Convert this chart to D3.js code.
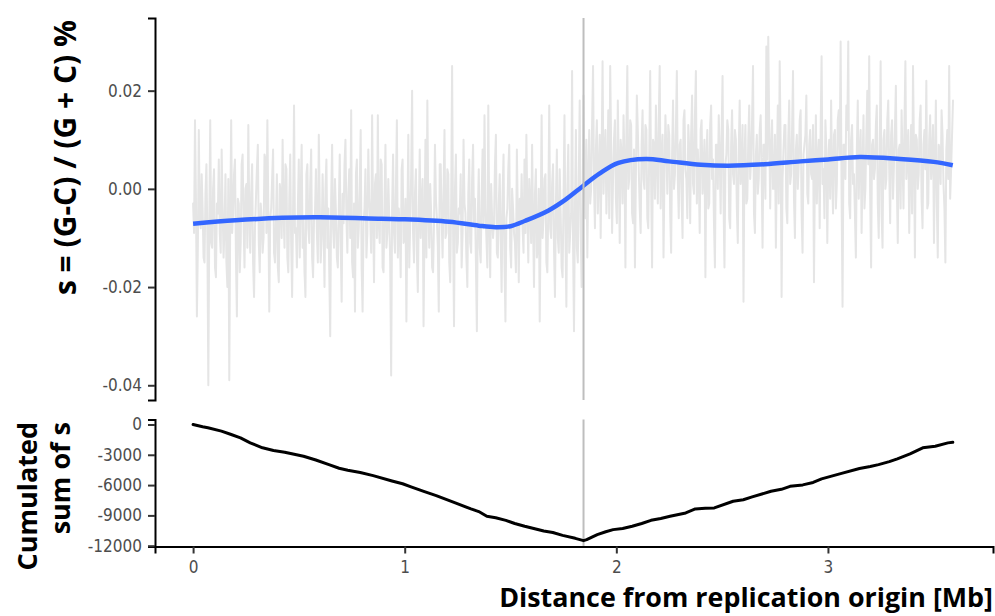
<!DOCTYPE html>
<html><head><meta charset="utf-8">
<script src="https://cdn.jsdelivr.net/npm/d3@7"></script>
<style>html,body{margin:0;padding:0;background:#fff}svg{display:block}</style>
</head><body><svg id="c" width="995" height="616"></svg>
<script>
// ---------- data ----------
const windowMb = 0.0045;         // spacing of the skew windows along the genome (Mb)
const originMb = 1.845;          // position of the vertical reference line (Mb)

// GC skew per window
const skew = [
-.003,-.009,.014,-.002,-.026,-.012,.012,-.006,-.008,.003,-.004,-.014,-.015,-.001,.005,-.010,-.040,-.007,.014,-.011,
-.012,0,.004,-.016,-.018,-.003,-.005,.006,-.009,-.013,.008,-.004,-.014,-.008,.003,-.015,-.020,.002,-.039,-.006,
.014,-.009,-.005,.003,.006,-.014,-.026,-.002,-.003,-.017,-.011,.005,.007,-.007,-.016,0,.001,-.012,.013,-.005,
-.013,-.001,.005,-.015,-.022,-.008,-.002,.004,.009,-.011,-.017,-.003,-.006,-.013,-.010,.007,.006,-.009,.014,-.004,
-.025,-.006,-.004,.002,.008,-.013,-.015,-.007,.003,-.016,-.019,.001,-.001,-.010,.010,-.005,-.012,.005,.004,-.014,
-.017,-.002,.007,-.011,-.022,-.004,.017,-.009,-.008,-.016,-.004,.006,-.014,-.001,.009,-.012,-.006,-.017,-.022,.003,
.005,-.008,-.011,.001,.008,-.014,-.018,-.006,-.005,.004,-.009,-.015,.011,-.003,-.015,-.010,.003,-.007,-.020,0,
.006,-.012,-.004,-.017,-.030,-.002,.009,-.008,-.012,.002,-.005,-.014,-.016,-.004,.007,-.011,-.023,-.001,-.007,.005,
.010,-.006,-.013,-.001,.004,-.010,.016,-.015,-.018,-.003,-.025,.003,.006,-.012,-.008,0,.012,-.016,-.025,-.007,
-.004,.004,-.014,-.009,.008,-.002,-.006,-.013,.015,-.005,-.019,.001,.003,-.010,.015,-.007,-.011,.006,.005,-.016,
-.017,-.003,.009,-.012,-.009,.002,-.006,-.015,-.038,-.004,.007,-.009,-.013,0,.014,-.014,-.004,-.008,-.018,.004,
.006,-.011,-.010,-.002,-.027,-.006,.011,-.016,-.007,.003,.020,-.009,-.015,-.001,.004,-.013,-.021,-.005,.008,-.010,
-.003,.002,-.028,-.008,.010,-.014,.018,-.004,-.012,.001,-.005,-.016,-.017,-.007,.009,-.002,-.006,-.012,-.025,.005,
.005,-.006,-.014,-.001,.012,-.010,-.009,.004,.003,-.015,-.019,-.003,.025,-.008,-.028,0,.007,-.013,-.011,-.004,
-.005,.003,-.016,-.009,.010,-.003,-.005,-.014,-.020,-.001,.006,-.011,-.013,.002,.009,-.007,-.002,-.015,-.029,-.005,
.004,-.012,-.015,-.002,.008,-.008,.015,-.004,-.010,-.016,.017,-.006,-.018,.001,-.006,-.010,-.007,.005,.011,-.013,
-.014,-.003,.003,-.010,-.021,-.001,.007,-.015,-.027,-.006,-.004,.004,.009,-.012,-.016,0,-.004,-.009,-.011,-.017,
.008,-.005,-.019,-.002,-.007,.003,-.008,-.013,.006,-.009,.011,-.004,-.015,.002,-.003,-.011,.009,-.007,-.020,-.001,
.004,-.014,-.012,0,-.027,-.006,.015,-.010,-.006,.002,.003,-.015,-.017,-.004,.017,-.008,-.010,.001,.005,-.012,
-.022,-.003,.008,-.010,-.013,.004,-.005,-.016,-.018,-.002,.015,-.009,-.024,0,.009,-.013,-.009,-.005,.024,-.011,
-.029,-.004,.012,-.012,-.015,.002,.018,-.008,-.020,-.006,
.019,.004,-.006,.010,-.014,.002,.012,-.003,0,.013,.025,.001,-.008,.008,.014,-.005,.003,.011,-.010,.006,
.026,-.001,.006,.012,-.005,.003,.016,-.006,.025,.009,-.009,.002,.010,.014,-.002,-.007,.018,.005,-.011,.010,
.007,-.003,.015,.006,-.016,.011,.025,0,.002,.014,.013,-.005,-.007,.008,-.016,.003,.019,.012,.004,-.004,
-.009,.009,.016,.002,0,.013,.012,-.006,-.008,.007,.024,.001,-.016,.010,.009,-.002,.017,.006,-.003,.014,
.025,-.004,.006,.011,-.014,.003,.015,.008,-.001,.013,.011,-.005,-.013,.007,.018,0,.003,.012,.024,.002,
-.006,.009,.010,-.002,-.010,.014,.016,.004,.002,-.006,.013,.008,-.007,.011,.019,.001,-.001,.015,.024,-.003,
.008,.003,-.009,.012,.014,-.001,.004,.010,-.018,.006,.012,-.004,-.003,.013,.017,.002,.006,-.007,-.016,.009,
.009,0,.015,.007,-.005,.011,.023,-.002,-.016,.005,.007,.014,.012,-.006,-.008,.009,.016,.003,.001,.012,
.010,-.004,-.011,.008,.018,.001,.004,.013,-.023,.006,.013,-.003,-.002,.010,.017,.002,.006,.014,.025,-.005,
-.009,.007,.011,-.001,.002,.012,.015,.004,-.012,.009,.009,-.002,.029,.006,.031,.013,-.004,.008,.014,0,
0,.011,-.012,.005,.017,-.003,.026,.009,-.022,.002,.008,.013,.013,-.004,-.007,.010,.018,.001,.003,.012,
.024,-.002,-.010,.008,.011,0,.005,.014,.016,-.005,-.013,.007,.009,.011,.019,-.001,-.003,.009,.012,.003,
.002,.013,-.019,.004,.015,-.003,.006,.010,-.008,.012,.027,.001,.004,-.006,.014,.008,-.011,.005,.010,-.002,
.018,.003,-.005,.011,.012,-.004,.001,.014,.016,.006,.030,-.001,-.024,.009,.009,.002,.017,.012,.030,-.003,
-.006,.010,.013,.001,.003,-.005,-.014,.008,.018,-.002,.007,.012,-.009,.004,.015,-.004,0,.011,.020,.005,
.027,-.001,-.016,.009,.010,.002,.004,.013,.017,-.003,-.010,.007,.026,-.005,-.012,.010,.012,0,.002,.014,
.018,.004,-.007,.011,.014,-.002,.005,.012,.021,.001,-.011,.008,.009,-.004,.016,.006,-.004,.013,.026,.002,
.007,.012,-.009,.003,.013,-.005,.025,.008,-.014,.011,.010,0,.003,.014,.017,-.002,-.008,.009,.012,.004,
.022,-.004,-.003,.010,.015,.002,.006,.013,-.011,.005,.018,-.003,-.014,.009,.008,.001,.016,.011,.001,-.004,
-.015,.008,.012,.002,.025,-.002,.004,.011,.018
];

// smoothed trend of the skew
const smoothX = [0,0.2,0.42,0.6,0.89,1.0,1.21,1.35,1.43,1.5,1.57,1.68,1.76,1.84,1.92,2.01,2.14,2.25,2.4,2.53,2.7,2.87,3.0,3.15,3.34,3.5,3.59];
const smoothY = [-0.0071,-0.0064,-0.0059,-0.0058,-0.0061,-0.0062,-0.0067,-0.0075,-0.0078,-0.0076,-0.0065,-0.0044,-0.0022,0.0005,0.0031,0.0053,0.0061,0.0056,0.0049,0.0047,0.0050,0.0056,0.0060,0.0065,0.0061,0.0055,0.0048];

// cumulated skew
const cumX = [0,0.045,0.07,0.134,0.18,0.224,0.27,0.328,0.38,0.433,0.522,0.58,0.642,0.69,0.731,0.79,0.851,0.940,0.99,1.030,1.09,1.149,1.239,1.313,1.35,1.388,1.43,1.478,1.52,1.567,1.657,1.70,1.746,1.806,1.845,1.860,1.910,1.95,1.985,2.03,2.075,2.12,2.164,2.21,2.254,2.328,2.373,2.42,2.463,2.552,2.60,2.642,2.731,2.78,2.821,2.881,2.93,2.970,3.060,3.149,3.20,3.239,3.29,3.328,3.388,3.448,3.507,3.567,3.59];
const cumY = [0,-230,-330,-660,-990,-1320,-1820,-2310,-2580,-2740,-3140,-3520,-3970,-4330,-4530,-4760,-5060,-5590,-5870,-6180,-6620,-7040,-7770,-8360,-8620,-9090,-9230,-9490,-9800,-10080,-10550,-10700,-10980,-11270,-11500,-11400,-10910,-10620,-10410,-10300,-10080,-9800,-9490,-9300,-9090,-8760,-8360,-8300,-8260,-7600,-7450,-7170,-6610,-6420,-6120,-5980,-5740,-5390,-4860,-4360,-4160,-3970,-3680,-3400,-2910,-2310,-2150,-1820,-1760];

// ticks
const xTickValues = [0,1,2,3];
const xTickLabels = ["0","1","2","3"];
const skewTickValues = [-0.04,-0.02,0,0.02];
const skewTickLabels = ["-0.04","-0.02","0.00","0.02"];
const cumTickValues = [-12000,-9000,-6000,-3000,0];
const cumTickLabels = ["-12000","-9000","-6000","-3000","0"];

const xTitle = "Distance from replication origin [Mb]";
const skewTitle = "s = (G-C) / (G + C) %";
const cumTitle = ["Cumulated","sum of s"];

// ---------- drawing ----------
const svg = d3.select("#c");
const x  = d3.scaleLinear().domain([-0.18, 3.78]).range([155, 993]);
const yS = d3.scaleLinear().domain([-0.043, 0.0348]).range([400, 18]);
const yC = d3.scaleLinear().domain([-12080, 494]).range([546.5, 419.5]);

const tickFont = "'DejaVu Sans Condensed','DejaVu Sans',sans-serif";
const titleFont = "'Open Sans','DejaVu Sans',sans-serif";

// top panel: skew
svg.append("path").datum(skew)
  .attr("d", d3.line().x((d,i)=>x(i*windowMb)).y(d=>yS(d)))
  .attr("fill","none").attr("stroke","#e5e5e5").attr("stroke-width",2)
  .attr("stroke-linejoin","round").attr("stroke-linecap","round");

svg.append("path").datum(d3.zip(smoothX, smoothY))
  .attr("d", d3.line().x(d=>x(d[0])).y(d=>yS(d[1])).curve(d3.curveCatmullRom.alpha(0.5)))
  .attr("fill","none").attr("stroke","#3366FF").attr("stroke-width",4.5)
  .attr("stroke-linecap","butt");

svg.append("line")
  .attr("x1",x(originMb)).attr("x2",x(originMb))
  .attr("y1",yS.range()[1]).attr("y2",yS.range()[0])
  .attr("stroke","#bebebe").attr("stroke-width",2);

// bottom panel: cumulated
svg.append("line")
  .attr("x1",x(originMb)).attr("x2",x(originMb))
  .attr("y1",yC.range()[1]).attr("y2",yC.range()[0])
  .attr("stroke","#bebebe").attr("stroke-width",2);

svg.append("path").datum(d3.zip(cumX, cumY))
  .attr("d", d3.line().x(d=>x(d[0])).y(d=>yC(d[1])))
  .attr("fill","none").attr("stroke","#000").attr("stroke-width",3)
  .attr("stroke-linejoin","round").attr("stroke-linecap","round");

function styleAxis(g){
  g.select(".domain").attr("stroke","#000").attr("stroke-width",2);
  g.selectAll(".tick line").attr("stroke","#333").attr("stroke-width",2);
  g.selectAll(".tick text").attr("fill","#4d4d4d")
    .style("font-family",tickFont).style("font-size","17px");
}

const axS = svg.append("g").attr("transform","translate(155,0)")
  .call(d3.axisLeft(yS).tickValues(skewTickValues).tickFormat((d,i)=>skewTickLabels[i])
        .tickSizeOuter(0).tickSize(7).tickPadding(6));
styleAxis(axS);

const axC = svg.append("g").attr("transform","translate(155,0)")
  .call(d3.axisLeft(yC).tickValues(cumTickValues).tickFormat((d,i)=>cumTickLabels[i])
        .tickSizeOuter(0).tickSize(7).tickPadding(6));
styleAxis(axC);

const axX = svg.append("g").attr("transform","translate(0,546.5)")
  .call(d3.axisBottom(x).tickValues(xTickValues).tickFormat((d,i)=>xTickLabels[i])
        .tickSizeOuter(0).tickSize(7).tickPadding(7));
styleAxis(axX);

// titles
const xt = svg.append("text").text(xTitle)
  .attr("text-anchor","end")
  .style("font-family",titleFont).style("font-weight","700").style("font-size","27px")
  .attr("fill","#000");
const xtW = xt.node().getComputedTextLength();
xt.attr("transform",`translate(993,607) scale(${Math.min(1, 494 / xtW)},1)`);

svg.append("text").text(skewTitle)
  .attr("transform","translate(76,157.5) rotate(-90)")
  .attr("text-anchor","middle")
  .style("font-family",titleFont).style("font-weight","700").style("font-size","30px")
  .attr("fill","#000");

svg.append("text").text(cumTitle[0])
  .attr("transform","translate(37,422) rotate(-90)")
  .attr("text-anchor","end")
  .style("font-family",titleFont).style("font-weight","700").style("font-size","27px")
  .attr("fill","#000");
svg.append("text").text(cumTitle[1])
  .attr("transform","translate(70,422) rotate(-90)")
  .attr("text-anchor","end")
  .style("font-family",titleFont).style("font-weight","700").style("font-size","27px")
  .attr("fill","#000");
</script>
</body></html>
